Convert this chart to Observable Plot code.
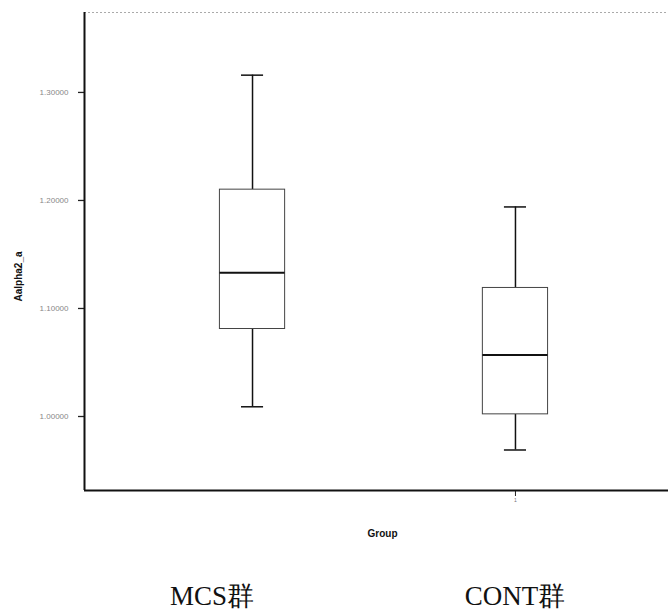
<!DOCTYPE html>
<html><head><meta charset="utf-8">
<script src="https://cdn.jsdelivr.net/npm/d3@7"></script>
<script src="https://cdn.jsdelivr.net/npm/@observablehq/plot@0.6"></script>
<style>
body{margin:0;background:#fff;width:668px;height:611px;overflow:hidden;position:relative;font-family:"Liberation Sans",Arial,sans-serif}
#cap{position:absolute;left:0;top:578px;width:668px;height:40px}
#cap span{position:absolute;top:0;font-family:"Liberation Serif","DejaVu Serif",serif;font-size:27px;transform:translateX(-50%);color:#111}
</style>
</head><body>
<div id="chart"></div>
<div id="cap"></div>
<script>
const groups = ["MCS群", "CONT群"];
const groupCodes = [0, 1];
const whiskerLow = [1.009, 0.969];
const q1 = [1.081, 1.002];
const median = [1.133, 1.057];
const q3 = [1.210, 1.119];
const whiskerHigh = [1.316, 1.194];
const yTicks = [1.0, 1.1, 1.2, 1.3];
const yTickLabels = ["1.00000", "1.10000", "1.20000", "1.30000"];
const xTicks = [1];
const xTickLabels = ["1"];

const stats = groups.map((g, i) => ({
  g, x: groupCodes[i], lo: whiskerLow[i], q1: q1[i], med: median[i], q3: q3[i], hi: whiskerHigh[i]
}));
const boxHalf = 0.124, capHalf = 0.042;
const xDom = [-0.639, 1.582], yDom = [0.9315, 1.374];
const yFmt = (d) => yTickLabels[yTicks.findIndex(t => Math.abs(t - d) < 1e-9)];

const plot = Plot.plot({
  width: 668, height: 560,
  marginLeft: 84, marginRight: 0, marginTop: 12, marginBottom: 70,
  x: {domain: xDom, label: null},
  y: {domain: yDom, label: null},
  style: {fontFamily: "Liberation Sans, Arial, sans-serif", fontSize: "8px", color: "#333", background: "#fff"},
  marks: [
    Plot.axisY({ticks: yTicks, tickFormat: yFmt, tickSize: 6, tickPadding: 10, fontSize: 8, fill: "#888", stroke: "#222", strokeWidth: 1.3, label: null}),
    Plot.axisX({ticks: xTicks, tickFormat: (d) => xTickLabels[xTicks.indexOf(d)], tickSize: 6, tickPadding: 2, fontSize: 5, fill: "#777", stroke: "#222", label: null}),
    Plot.ruleY([yDom[1]], {stroke: "#aaa", strokeWidth: 1, strokeDasharray: "2,2"}),
    Plot.ruleY([yDom[0]], {stroke: "#111", strokeWidth: 2}),
    Plot.ruleX([xDom[0]], {stroke: "#111", strokeWidth: 2}),
    // whiskers
    Plot.ruleX(stats, {x: "x", y1: "lo", y2: "q1", stroke: "#111", strokeWidth: 1.5}),
    Plot.ruleX(stats, {x: "x", y1: "q3", y2: "hi", stroke: "#111", strokeWidth: 1.5}),
    Plot.ruleY(stats, {y: "lo", x1: d => d.x - capHalf, x2: d => d.x + capHalf, stroke: "#111", strokeWidth: 1.5}),
    Plot.ruleY(stats, {y: "hi", x1: d => d.x - capHalf, x2: d => d.x + capHalf, stroke: "#111", strokeWidth: 1.5}),
    // boxes
    Plot.rect(stats, {x1: d => d.x - boxHalf, x2: d => d.x + boxHalf, y1: "q1", y2: "q3", fill: "#fff", stroke: "#444", strokeWidth: 1}),
    Plot.ruleY(stats, {y: "med", x1: d => d.x - boxHalf, x2: d => d.x + boxHalf, stroke: "#111", strokeWidth: 2}),
    // axis titles
    Plot.text(["Group"], {frameAnchor: "bottom", dy: 46, dx: 6, text: d => d, fontWeight: "bold", fontSize: 10, fill: "#111"}),
    Plot.text(["Aalpha2_a"], {frameAnchor: "left", dx: -66, dy: 50, rotate: -90, text: d => d, fontWeight: "bold", fontSize: 10, fill: "#111"})
  ]
});
document.getElementById("chart").appendChild(plot);

// caption under the chart, positioned through the plot's x scale
const xs = plot.scale("x");
const cap = document.getElementById("cap");
const capOffsets = [-40, 0];
groups.forEach((g, i) => {
  const s = document.createElement("span");
  s.textContent = g;
  s.style.left = (xs.apply(groupCodes[i]) + capOffsets[i]) + "px";
  cap.appendChild(s);
});
</script>
</body></html>
